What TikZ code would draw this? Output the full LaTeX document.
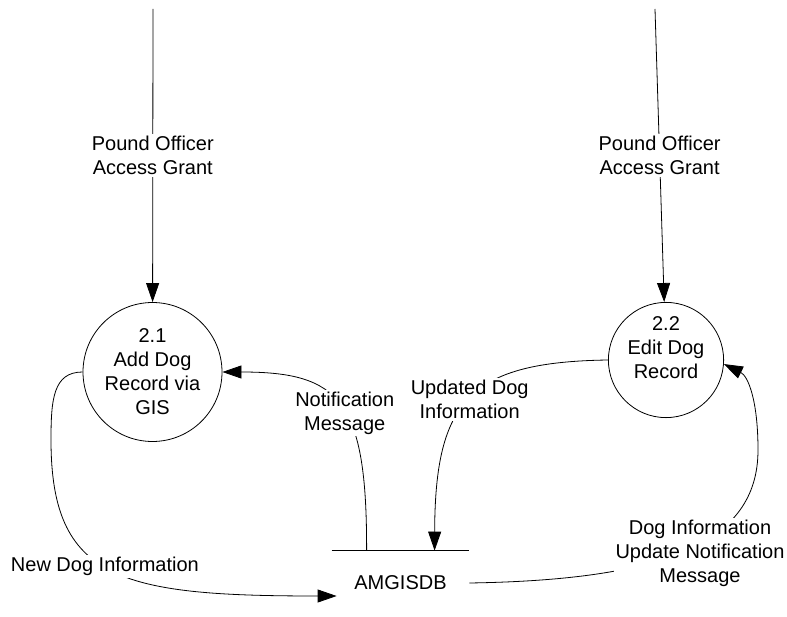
\documentclass[tikz,border=0pt]{standalone}
\usepackage{fontspec}
\setmainfont{Liberation Sans}
\usetikzlibrary{arrows.meta,positioning}

\begin{document}
\begin{tikzpicture}[x=1pt, y=-1pt, font=\fontsize{20}{24}\selectfont,
    line width=0.8pt,
    proc/.style={circle, draw, align=center, inner sep=0pt},
    lbl/.style={fill=white, align=center, inner sep=2pt},
    flow/.style={-{Triangle[length=19pt,width=13pt]}}]
    \useasboundingbox (0,0) rectangle (787,617);

    % processes and data store
    \node (p21) [proc, minimum size=139pt] at (152.5,372) {2.1\\Add Dog\\Record via\\GIS};
    \node (p22) [proc, minimum size=114pt] at (666,360) {2.2\\Edit Dog\\Record\\~};
    \node (db) [minimum width=137pt, minimum height=64pt, inner sep=0pt] at (400.5,583) {AMGISDB};
    \draw (db.north west) -- (db.north east);

    \coordinate (in1) at (153,9);
    \coordinate (in2) at (655,9);
    \coordinate (s1) at ([xshift=35pt]db.north west);
    \coordinate (s2) at ([xshift=103pt]db.north west);
    \coordinate (s3) at ([xshift=5pt,yshift=-13pt]db.west);

    % flows
    \draw[flow] (in1) -- node[lbl] {Pound Officer\\Access Grant} (p21);
    \draw[flow] (in2) -- node[lbl] {Pound Officer\\Access Grant} (p22);
    \draw[flow] (p22.west) .. controls (470,362) and (435,400) .. (s2)
        node[lbl, pos=0.5] {Updated Dog\\Information};
    \draw[flow] (s1) .. controls (367,400) and (340,372) .. (p21.east)
        node[lbl, pos=0.45] {Notification\\Message};
    \draw[flow] (p21.west) .. controls (53,372) and (51,400) .. (51,440)
        .. controls (51,580) and (120,596) .. (s3)
        node[lbl, pos=0.47] {New Dog Information};
    \draw[flow] (db.east) .. controls (660,580) and (758,545) .. (758,450)
        .. controls (758,400) and (748,376) .. (p22.-4);
    \node (l5) [lbl] at (700,553) {Dog Information\\Update Notification\\Message};
\end{tikzpicture}
\end{document}
